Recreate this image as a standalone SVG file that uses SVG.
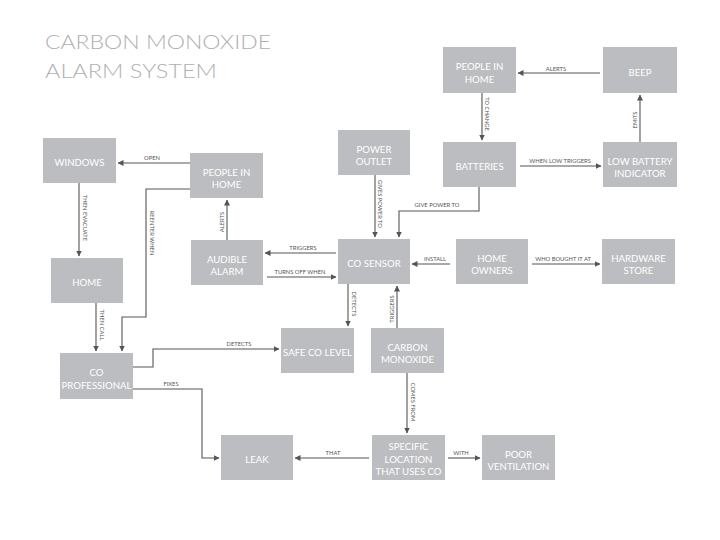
<svg xmlns="http://www.w3.org/2000/svg" width="720" height="540" viewBox="0 0 720 540">
<defs>
<marker id="ah" markerUnits="userSpaceOnUse" markerWidth="6" markerHeight="6" refX="5.5" refY="3" orient="auto">
<path d="M0,0 L6,3 L0,6 z" fill="#555"/>
</marker>
<style>
.box{fill:#bcbdc0}
.bt{font-family:Lato,"Open Sans",sans-serif;font-size:9.6px;font-weight:400;fill:#fff;text-anchor:middle}
.ln{fill:none;stroke:#555;stroke-width:1.1;marker-end:url(#ah)}
.lb{font-family:Lato,"Open Sans",sans-serif;font-size:5.8px;fill:#555;text-anchor:middle}
.title{font-family:Lato,"Open Sans",sans-serif;font-size:20px;font-weight:300;fill:#b0b0b0}
</style>
</defs>
<rect width="720" height="540" fill="#fff"/>
<g id="title">
<text class="title" x="45" y="49" textLength="226" lengthAdjust="spacingAndGlyphs">CARBON MONOXIDE</text>
<text class="title" x="45" y="78" textLength="172" lengthAdjust="spacingAndGlyphs">ALARM SYSTEM</text>
</g>
<g id="n_people_top"><rect class="box" x="443" y="47" width="73" height="46"/><text class="bt" x="479.5" y="70">PEOPLE IN</text><text class="bt" x="479.5" y="82.7">HOME</text></g>
<g id="n_beep"><rect class="box" x="603" y="47" width="74" height="46"/><text class="bt" x="640" y="75.6">BEEP</text></g>
<g id="n_batteries"><rect class="box" x="443" y="142" width="73" height="45"/><text class="bt" x="479.5" y="170">BATTERIES</text></g>
<g id="n_lowbat"><rect class="box" x="603" y="142" width="74" height="45"/><text class="bt" x="640" y="164.5">LOW BATTERY</text><text class="bt" x="640" y="177.2">INDICATOR</text></g>
<g id="n_windows"><rect class="box" x="43" y="138" width="73" height="45"/><text class="bt" x="79.5" y="166">WINDOWS</text></g>
<g id="n_people_mid"><rect class="box" x="190" y="153" width="73" height="45"/><text class="bt" x="226.5" y="175.5">PEOPLE IN</text><text class="bt" x="226.5" y="188.2">HOME</text></g>
<g id="n_power"><rect class="box" x="338" y="130" width="72" height="45"/><text class="bt" x="374" y="152.5">POWER</text><text class="bt" x="374" y="165.2">OUTLET</text></g>
<g id="n_home"><rect class="box" x="51" y="258" width="72" height="45"/><text class="bt" x="87" y="286">HOME</text></g>
<g id="n_audible"><rect class="box" x="191" y="240" width="72" height="45"/><text class="bt" x="227" y="262.5">AUDIBLE</text><text class="bt" x="227" y="275.2">ALARM</text></g>
<g id="n_cosensor"><rect class="box" x="338" y="239" width="72" height="45"/><text class="bt" x="374" y="267">CO SENSOR</text></g>
<g id="n_homeowners"><rect class="box" x="456" y="239" width="72" height="45"/><text class="bt" x="492" y="261.5">HOME</text><text class="bt" x="492" y="274.2">OWNERS</text></g>
<g id="n_hardware"><rect class="box" x="602" y="239" width="73" height="45"/><text class="bt" x="638.5" y="261.5">HARDWARE</text><text class="bt" x="638.5" y="274.2">STORE</text></g>
<g id="n_copro"><rect class="box" x="60" y="353" width="73" height="46"/><text class="bt" x="96.5" y="376">CO</text><text class="bt" x="96.5" y="388.7">PROFESSIONAL</text></g>
<g id="n_safe"><rect class="box" x="281" y="328" width="73" height="45"/><text class="bt" x="317.5" y="356">SAFE CO LEVEL</text></g>
<g id="n_carbon"><rect class="box" x="371" y="328" width="73" height="45"/><text class="bt" x="407.5" y="350.5">CARBON</text><text class="bt" x="407.5" y="363.2">MONOXIDE</text></g>
<g id="n_leak"><rect class="box" x="221" y="435" width="72" height="45"/><text class="bt" x="257" y="463">LEAK</text></g>
<g id="n_specific"><rect class="box" x="372" y="435" width="73" height="45"/><text class="bt" x="408.5" y="450">SPECIFIC</text><text class="bt" x="408.5" y="462.7">LOCATION</text><text class="bt" x="408.5" y="475">THAT USES CO</text></g>
<g id="n_poor"><rect class="box" x="482" y="435" width="73" height="45"/><text class="bt" x="518.5" y="457.5">POOR</text><text class="bt" x="518.5" y="470.2">VENTILATION</text></g>
<g id="connectors">
<path class="ln" d="M600 73 H518"/>
<text class="lb" x="556" y="70.5">ALERTS</text>
<path class="ln" d="M482 93 V140"/>
<text class="lb" transform="translate(485,114) rotate(90)">TO CHANGE</text>
<path class="ln" d="M640 142 V95"/>
<text class="lb" transform="translate(637,120) rotate(-90)">EMITS</text>
<path class="ln" d="M520 166 H601"/>
<text class="lb" x="560" y="162.5">WHEN LOW TRIGGERS</text>
<path class="ln" d="M190 163 H118"/>
<text class="lb" x="152" y="159.5">OPEN</text>
<path class="ln" d="M190 189 H146 V317 H122 V351"/>
<text class="lb" transform="translate(149.5,233) rotate(90)">REENTER WHEN</text>
<path class="ln" d="M79 183 V256"/>
<text class="lb" transform="translate(82.5,218) rotate(90)">THEN EVACUATE</text>
<path class="ln" d="M96 303 V351"/>
<text class="lb" transform="translate(99.5,325) rotate(90)">THEN CALL</text>
<path class="ln" d="M227 240 V200"/>
<text class="lb" transform="translate(224,222) rotate(-90)">ALERTS</text>
<path class="ln" d="M375 175 V237"/>
<text class="lb" transform="translate(378,204) rotate(90)">GIVES POWER TO</text>
<path class="ln" d="M479 187 V211 H399 V237"/>
<text class="lb" x="437" y="206.5">GIVE POWER TO</text>
<path class="ln" d="M336 253 H265"/>
<text class="lb" x="303" y="249.5">TRIGGERS</text>
<path class="ln" d="M267 277 H336"/>
<text class="lb" x="300" y="273.5">TURNS OFF WHEN</text>
<path class="ln" d="M450 264 H412"/>
<text class="lb" x="435" y="260.5">INSTALL</text>
<path class="ln" d="M532 264 H600"/>
<text class="lb" x="563" y="260.5">WHO BOUGHT IT AT</text>
<path class="ln" d="M348 284 V326"/>
<text class="lb" transform="translate(351.5,304) rotate(90)">DETECTS</text>
<path class="ln" d="M397 328 V286"/>
<text class="lb" transform="translate(394,309) rotate(-90)">TRIGGERS</text>
<path class="ln" d="M133 367 H153 V349 H279"/>
<text class="lb" x="239" y="345.5">DETECTS</text>
<path class="ln" d="M133 389 H202 V458 H219"/>
<text class="lb" x="171" y="385.5">FIXES</text>
<path class="ln" d="M407 373 V433"/>
<text class="lb" transform="translate(410.5,402) rotate(90)">COMES FROM</text>
<path class="ln" d="M369 458 H295"/>
<text class="lb" x="333" y="454.5">THAT</text>
<path class="ln" d="M448 458 H480"/>
<text class="lb" x="461" y="454.5">WITH</text>
</g>
</svg>
